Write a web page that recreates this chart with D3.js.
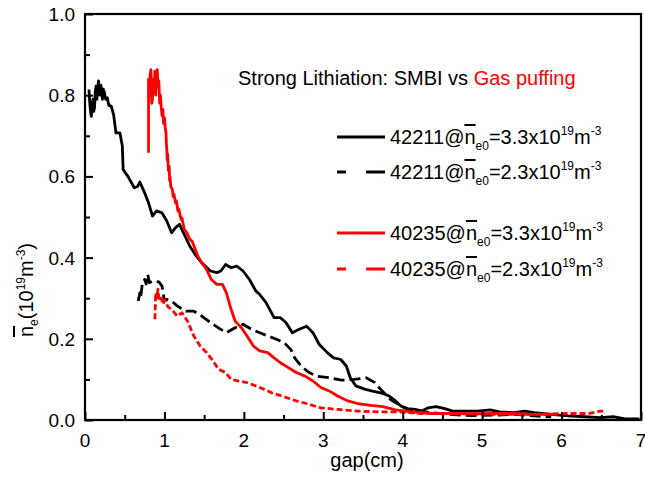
<!DOCTYPE html>
<html>
<head>
<meta charset="utf-8">
<script src="https://cdn.jsdelivr.net/npm/d3@7"></script>
<style>
  body { margin: 0; background: #fff; }
  text { font-family: "Liberation Sans", Arial, sans-serif; }
</style>
</head>
<body>
<svg id="chart" width="645" height="479"></svg>
<script>
//
// Data
//

// 42211 @ ne0 = 3.3e19  (black solid)
var smbiHigh = [
  [0.05, 0.814], [0.06, 0.78], [0.07, 0.76], [0.08, 0.748], [0.09, 0.78], [0.10, 0.79],
  [0.11, 0.76], [0.12, 0.77], [0.13, 0.81], [0.14, 0.822], [0.15, 0.79], [0.16, 0.82],
  [0.17, 0.835], [0.18, 0.81], [0.19, 0.80], [0.20, 0.825], [0.21, 0.81], [0.22, 0.79],
  [0.23, 0.815], [0.24, 0.81], [0.26, 0.79], [0.28, 0.794], [0.30, 0.775], [0.33, 0.773],
  [0.36, 0.752], [0.39, 0.707], [0.44, 0.707], [0.47, 0.675],
  [0.48, 0.617], [0.54, 0.60], [0.62, 0.572], [0.66, 0.575], [0.69, 0.586], [0.75, 0.56],
  [0.80, 0.535], [0.85, 0.502], [0.90, 0.515], [0.97, 0.51], [1.03, 0.49], [1.09, 0.461],
  [1.14, 0.474], [1.19, 0.482], [1.24, 0.461], [1.32, 0.428], [1.40, 0.404], [1.47, 0.387],
  [1.58, 0.367], [1.66, 0.363], [1.71, 0.367], [1.77, 0.383], [1.84, 0.375], [1.91, 0.379],
  [1.99, 0.367], [2.07, 0.346], [2.15, 0.318], [2.20, 0.309], [2.28, 0.289], [2.38, 0.252],
  [2.46, 0.252], [2.53, 0.240], [2.61, 0.215], [2.69, 0.223], [2.79, 0.231], [2.87, 0.215],
  [2.95, 0.186], [3.05, 0.166], [3.13, 0.153], [3.22, 0.149], [3.29, 0.133], [3.34, 0.104],
  [3.41, 0.084], [3.52, 0.076], [3.62, 0.071], [3.72, 0.067], [3.83, 0.059], [3.91, 0.047],
  [3.98, 0.034], [4.06, 0.028], [4.16, 0.026], [4.24, 0.022], [4.32, 0.030], [4.42, 0.033],
  [4.53, 0.028], [4.63, 0.022], [4.79, 0.022], [4.94, 0.022], [5.10, 0.025], [5.22, 0.020],
  [5.41, 0.018], [5.53, 0.022], [5.66, 0.018], [5.87, 0.014], [6.08, 0.010], [6.29, 0.008],
  [6.49, 0.006], [6.65, 0.008], [6.80, 0.003], [6.98, 0.003]
];

// 42211 @ ne0 = 2.3e19  (black dashed)
var smbiLow = [
  [0.67, 0.293], [0.69, 0.313], [0.70, 0.30], [0.72, 0.334], [0.75, 0.346], [0.77, 0.335],
  [0.79, 0.359], [0.81, 0.338], [0.85, 0.342], [0.93, 0.34], [0.97, 0.33], [1.00, 0.293],
  [1.03, 0.297], [1.09, 0.293], [1.16, 0.281], [1.27, 0.268], [1.37, 0.268], [1.47, 0.256],
  [1.58, 0.240], [1.68, 0.227], [1.78, 0.215], [1.89, 0.227], [1.99, 0.236], [2.10, 0.223],
  [2.20, 0.215], [2.30, 0.207], [2.41, 0.199], [2.51, 0.190], [2.59, 0.174], [2.64, 0.153],
  [2.72, 0.133], [2.82, 0.117], [2.92, 0.108], [3.08, 0.104], [3.23, 0.098], [3.39, 0.100],
  [3.54, 0.104], [3.65, 0.092], [3.70, 0.080], [3.85, 0.050], [4.06, 0.026], [4.37, 0.018],
  [4.63, 0.013], [4.89, 0.011], [5.15, 0.012], [5.41, 0.014], [5.66, 0.010], [5.87, 0.008]
];

// 40235 @ ne0 = 3.3e19  (red solid)
var puffHigh = [
  [0.80, 0.658], [0.80, 0.839], [0.81, 0.80], [0.82, 0.85], [0.83, 0.863], [0.84, 0.78],
  [0.85, 0.79], [0.86, 0.84], [0.87, 0.82], [0.88, 0.859], [0.89, 0.80], [0.90, 0.85],
  [0.91, 0.863], [0.92, 0.82], [0.93, 0.835], [0.94, 0.78], [0.95, 0.80], [0.96, 0.77],
  [0.97, 0.75], [0.98, 0.765], [0.99, 0.73], [1.00, 0.745], [1.01, 0.72], [1.02, 0.707],
  [1.025, 0.68], [1.03, 0.666], [1.035, 0.64], [1.04, 0.655], [1.05, 0.615], [1.06, 0.625],
  [1.065, 0.59], [1.07, 0.60], [1.08, 0.575], [1.10, 0.568], [1.11, 0.55], [1.12, 0.556],
  [1.14, 0.535], [1.15, 0.54], [1.17, 0.515], [1.18, 0.52], [1.21, 0.494], [1.22, 0.498],
  [1.25, 0.469], [1.28, 0.462], [1.32, 0.445], [1.35, 0.44],
  [1.38, 0.424], [1.42, 0.404], [1.47, 0.387], [1.53, 0.371], [1.59, 0.346], [1.66, 0.334],
  [1.73, 0.334], [1.78, 0.313], [1.84, 0.272], [1.89, 0.244], [1.97, 0.227], [2.04, 0.207],
  [2.12, 0.182], [2.20, 0.170], [2.30, 0.166], [2.38, 0.153], [2.46, 0.141], [2.56, 0.129],
  [2.66, 0.117], [2.77, 0.108], [2.87, 0.096], [2.97, 0.080], [3.08, 0.071], [3.18, 0.059],
  [3.31, 0.047], [3.44, 0.040], [3.60, 0.036], [3.75, 0.033], [3.91, 0.025], [4.11, 0.020],
  [4.37, 0.016], [4.63, 0.016], [4.89, 0.015], [5.15, 0.016], [5.41, 0.016], [5.66, 0.014],
  [5.95, 0.014]
];

// 40235 @ ne0 = 2.3e19  (red dashed)
var puffLow = [
  [0.88, 0.248], [0.89, 0.313], [0.90, 0.30], [0.92, 0.322], [0.93, 0.30], [0.95, 0.293],
  [0.96, 0.30], [0.98, 0.285], [1.00, 0.295], [1.02, 0.293], [1.04, 0.28],
  [1.06, 0.277], [1.11, 0.268], [1.16, 0.256], [1.22, 0.264], [1.29, 0.244], [1.37, 0.207],
  [1.45, 0.182], [1.53, 0.166], [1.60, 0.149], [1.68, 0.125], [1.77, 0.117], [1.84, 0.100],
  [1.94, 0.096], [2.04, 0.092], [2.15, 0.084], [2.25, 0.076], [2.35, 0.067], [2.51, 0.057],
  [2.66, 0.047], [2.82, 0.039], [2.97, 0.030], [3.18, 0.026], [3.44, 0.022], [3.70, 0.020],
  [3.96, 0.020], [4.22, 0.016], [4.63, 0.016], [5.15, 0.014], [5.66, 0.014], [6.08, 0.016],
  [6.34, 0.016], [6.49, 0.022], [6.53, 0.022]
];

var xTicks = [0, 1, 2, 3, 4, 5, 6, 7];
var yTicks = [0.0, 0.2, 0.4, 0.6, 0.8, 1.0];

var legendShots = ["42211", "42211", "40235", "40235"];
var legendDensity = ["3.3", "2.3", "3.3", "2.3"];

//
// Layout
//
var width = 645, height = 479;
var margin = { top: 14, right: 4, bottom: 59, left: 85 };
var colorRed = "#ff0000";

var svg = d3.select("#chart");
var x = d3.scaleLinear().domain([0, 7]).range([margin.left, width - margin.right]);
var y = d3.scaleLinear().domain([0, 1]).range([height - margin.bottom, margin.top]);

var series = [
  { data: smbiHigh, color: "#000", dash: null },
  { data: smbiLow, color: "#000", dash: "11,5" },
  { data: puffHigh, color: colorRed, dash: null },
  { data: puffLow, color: colorRed, dash: "6,3" }
];

var line = d3.line()
  .x(function(d) { return x(d[0]); })
  .y(function(d) { return y(d[1]); });

// curves, red ones on top like in the original
series.forEach(function(s) {
  svg.append("path")
    .datum(s.data)
    .attr("d", line)
    .attr("fill", "none")
    .attr("stroke", s.color)
    .attr("stroke-width", 2.8)
    .attr("stroke-linejoin", "round")
    .attr("stroke-dasharray", s.dash);
});

// axes: ticks point inward, only bottom and left
var xAxis = d3.axisBottom(x).tickValues(d3.range(0, 7.01, 0.5)).tickSizeInner(-5).tickSizeOuter(0).tickFormat("");
var yAxis = d3.axisLeft(y).tickValues(d3.range(0, 1.01, 0.1)).tickSizeInner(-5).tickSizeOuter(0).tickFormat("");

var gx = svg.append("g").attr("transform", "translate(0," + y(0) + ")").call(xAxis);
var gy = svg.append("g").attr("transform", "translate(" + x(0) + ",0)").call(yAxis);
gx.select(".domain").remove();
gy.select(".domain").remove();
gx.selectAll(".tick line").attr("stroke-width", 2)
  .attr("y2", function(d) { return Math.abs(d % 1) < 1e-6 ? -8 : -5; });
gy.selectAll(".tick line").attr("stroke-width", 2)
  .attr("x2", function(d) { return Math.abs((d * 10) % 2) < 1e-6 ? 8 : 5; });

// frame
svg.append("rect")
  .attr("x", x(0)).attr("y", y(1))
  .attr("width", x(7) - x(0)).attr("height", y(0) - y(1))
  .attr("fill", "none").attr("stroke", "#000").attr("stroke-width", 2.2);

// tick labels
svg.selectAll(".xlab").data(xTicks).enter().append("text")
  .attr("x", function(d) { return x(d); })
  .attr("y", 447)
  .attr("text-anchor", "middle")
  .attr("font-size", 19)
  .text(function(d) { return d; });

svg.selectAll(".ylab").data(yTicks).enter().append("text")
  .attr("x", 75)
  .attr("y", function(d) { return y(d) + 7; })
  .attr("text-anchor", "end")
  .attr("font-size", 19)
  .text(function(d) { return d3.format(".1f")(d); });

// axis titles
svg.append("text")
  .attr("x", (x(0) + x(7)) / 2 + 4)
  .attr("y", 467)
  .attr("text-anchor", "middle")
  .attr("font-size", 20)
  .text("gap(cm)");

var yt = svg.append("text")
  .attr("transform", "translate(33,290) rotate(-90)")
  .attr("text-anchor", "middle")
  .attr("font-size", 20);
yt.append("tspan").style("text-decoration", "overline").text("n");
yt.append("tspan").attr("font-size", 12).attr("dy", 5).text("e");
yt.append("tspan").attr("dy", -5).text("(10");
yt.append("tspan").attr("font-size", 12).attr("dy", -8).text("19");
yt.append("tspan").attr("dy", 8).text("m");
yt.append("tspan").attr("font-size", 12).attr("dy", -8).text("-3");
yt.append("tspan").attr("dy", 8).text(")");

// title
var title = svg.append("text").attr("x", 238).attr("y", 85).attr("font-size", 20);
title.append("tspan").text("Strong Lithiation: SMBI vs ");
title.append("tspan").attr("fill", colorRed).text("Gas puffing");

// legend
var legendY = [137, 172, 233, 269];
series.forEach(function(s, i) {
  svg.append("line")
    .attr("x1", 337).attr("x2", 385)
    .attr("y1", legendY[i]).attr("y2", legendY[i])
    .attr("stroke", s.color)
    .attr("stroke-width", 2.8)
    .attr("stroke-dasharray", s.dash ? "9,20,19,0" : null);

  var t = svg.append("text")
    .attr("x", 390)
    .attr("y", legendY[i] + 7)
    .attr("font-size", 20);
  t.append("tspan").text(legendShots[i] + "@");
  t.append("tspan").style("text-decoration", "overline").text("n");
  t.append("tspan").attr("font-size", 12).attr("dy", 6).text("e0");
  t.append("tspan").attr("dy", -6).text("=" + legendDensity[i] + "x10");
  t.append("tspan").attr("font-size", 12).attr("dy", -9).text("19");
  t.append("tspan").attr("dy", 9).text("m");
  t.append("tspan").attr("font-size", 12).attr("dy", -9).text("-3");
});
</script>
</body>
</html>
